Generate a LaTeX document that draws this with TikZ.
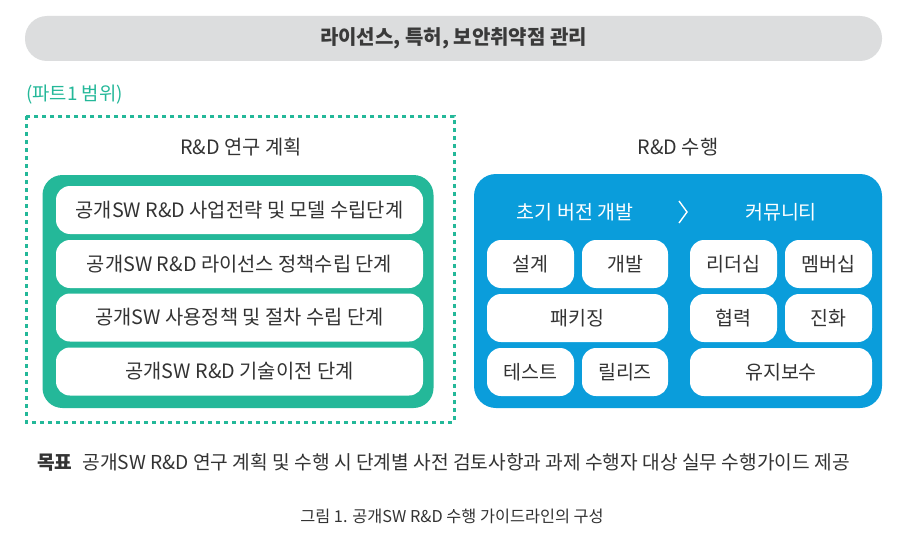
\documentclass[tikz,border=0pt]{standalone}
\usepackage{fontspec}
\setmainfont{Noto Sans CJK KR}
\definecolor{barGray}{HTML}{DCDDDE}
\definecolor{titleTxt}{HTML}{3A3A3A}
\definecolor{txt}{HTML}{333333}
\definecolor{tealG}{HTML}{24B899}
\definecolor{skyB}{HTML}{0A9DDB}
\tikzset{
  fs/.style={font=\fontsize{#1}{#1}\selectfont},
  fsb/.style={font=\fontsize{#1}{#1}\selectfont\bfseries},
  rowbox/.style={fill=white, rounded corners=14pt, minimum height=48pt, minimum width=#1, inner sep=0pt, text=txt},
  hdr/.style={text=txt, fs=19.8},
}
\begin{document}
\begin{tikzpicture}[x=1pt,y=-1pt]
\useasboundingbox[fill=white] (0,0) rectangle (905,543);
% top bar
\node[fill=barGray, rounded corners=22pt, minimum width=857pt, minimum height=45pt, inner sep=0pt] (bar) at (453.5,38.5) {};
\node[text=titleTxt, fsb=20] (bartxt) at (bar.center) {라이선스, 특허, 보안취약점 관리};
% part label
\node[anchor=west, text=tealG, fs=18.8, inner sep=0pt] (part) at (26,95) {(파트1 범위)};
% dashed frame
\draw[tealG, line width=3pt, dash pattern=on 4pt off 4pt] (26,116) rectangle (454,422);
\node[hdr] (planhdr) at (241,147) {R\&D 연구 계획};
% green box
\node[fill=tealG, rounded corners=20pt, minimum width=391pt, minimum height=233pt, inner sep=0pt] (gbox) at (238,291.5) {};
\node[rowbox=367pt, fs=19.8] (r1) at (239.5,210) {공개SW R\&D 사업전략 및 모델 수립단계};
\node[rowbox=367pt, fs=19.8] (r2) at (239.5,264) {공개SW R\&D 라이선스 정책수립 단계};
\node[rowbox=367pt, fs=19.8] (r3) at (239.5,317.5) {공개SW 사용정책 및 절차 수립 단계};
\node[rowbox=367pt, fs=19.8] (r4) at (239.5,371.5) {공개SW R\&D 기술이전 단계};
% right side
\node[hdr] (dohdr) at (678,147) {R\&D 수행};
\node[fill=skyB, rounded corners=22pt, minimum width=408pt, minimum height=234pt, inner sep=0pt] (bbox) at (678,291) {};
\node[text=white, fs=19.5] (h1) at (575,212) {초기 버전 개발};
\node[text=white, fs=19.5] (h2) at (781,212) {커뮤니티};
\draw[white, line width=1.4pt] (679,201) -- (687,212) -- (679,223);
\node[rowbox=87pt, fs=19.5] (p1) at (530.5,264) {설계};
\node[rowbox=86pt, fs=19.5] (p2) at (625,264) {개발};
\node[rowbox=181pt, fs=19.5] (p3) at (577.5,318) {패키징};
\node[rowbox=87pt, fs=19.5] (p4) at (530.5,372) {테스트};
\node[rowbox=86pt, fs=19.5] (p5) at (625,372) {릴리즈};
\node[rowbox=87pt, fs=19.5] (q1) at (733.5,264) {리더십};
\node[rowbox=87pt, fs=19.5] (q2) at (828.5,264) {멤버십};
\node[rowbox=87pt, fs=19.5] (q3) at (733.5,318) {협력};
\node[rowbox=87pt, fs=19.5] (q4) at (828.5,318) {진화};
\node[rowbox=182pt, fs=19.5] (q5) at (781,372) {유지보수};
% goal line
\node[anchor=west, text=txt, fs=19.2, inner sep=0pt] (goal) at (37,462) {\textbf{목표}\hspace{0.3em} 공개SW R\&D 연구 계획 및 수행 시 단계별 사전 검토사항과 과제 수행자 대상 실무 수행가이드 제공};
% caption
\node[text=txt, fs=16.3] (cap) at (452,516) {그림 1. 공개SW R\&D 수행 가이드라인의 구성};
\end{tikzpicture}
\end{document}
